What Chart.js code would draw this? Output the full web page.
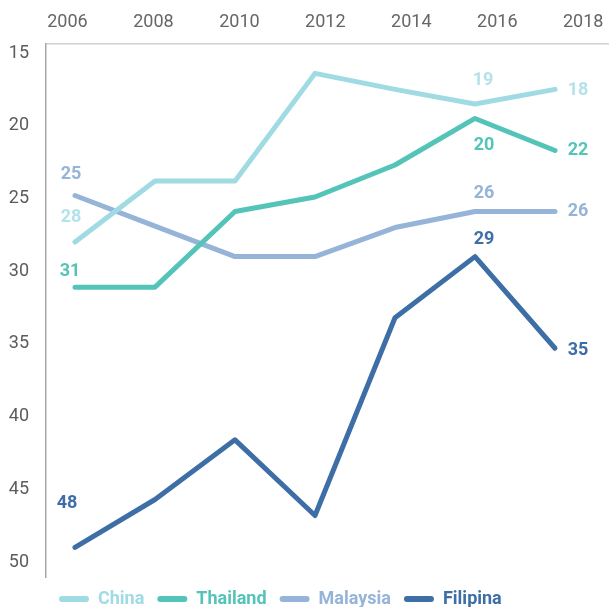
<!DOCTYPE html>
<html>
<head>
<meta charset="utf-8">
<script src="https://cdn.jsdelivr.net/npm/chart.js@4.4.1/dist/chart.umd.min.js"></script>
<style>
  html, body { margin: 0; padding: 0; background: #fff; overflow: hidden; }
  canvas { display: block; }
</style>
</head>
<body>
<canvas id="chart" width="609" height="618" style="width:609px;height:618px"></canvas>
<script>
const YEAR_TICKS = [2006, 2008, 2010, 2012, 2014, 2016, 2018];
const RANK_TICKS = [15, 20, 25, 30, 35, 40, 45, 50];

const SERIES_NAMES = ['China', 'Thailand', 'Malaysia', 'Filipina'];
const china = [28.0, 23.8, 23.8, 16.4, 17.5, 18.5, 17.5];
const thailand = [31.1, 31.1, 25.9, 24.9, 22.7, 19.5, 21.7];
const malaysia = [24.8, 26.9, 29.0, 29.0, 27.0, 25.9, 25.9];
const filipina = [49.0, 45.7, 41.6, 46.8, 33.2, 29.0, 35.3];

// value tags shown on the chart (index -> text)
const chinaTags = { 0: '28', 5: '19', 6: '18' };
const thailandTags = { 0: '31', 5: '20', 6: '22' };
const malaysiaTags = { 0: '25', 5: '26', 6: '26' };
const filipinaTags = { 0: '48', 5: '29', 6: '35' };

const COLORS = ['#a0dbe4', '#55c4b8', '#96b3d8', '#3d6ea6'];
const TAG_COLORS = ['#b3e3ea', '#55c4b8', '#96b3d8', '#3d6ea6'];

// tag offsets from their point, per series and index
const TAG_OFFSETS = [
  { 0: [-4, -25], 5: [8, -23], 6: [23, 1] },
  { 0: [-5, -16], 5: [9, 27], 6: [23, 0] },
  { 0: [-4, -21], 5: [9, -18], 6: [23, 0] },
  { 0: [-8, -44], 5: [9, -17], 6: [23, 2] },
];

const { Chart } = window;
const FONT = 'Roboto, "Noto Sans", sans-serif';

const seriesValues = [china, thailand, malaysia, filipina];
const seriesTags = [chinaTags, thailandTags, malaysiaTags, filipinaTags];

const tagPlugin = {
  id: 'valueTags',
  afterDatasetsDraw(chart) {
    const { ctx } = chart;
    ctx.save();
    ctx.font = `bold 18px ${FONT}`;
    ctx.textAlign = 'center';
    ctx.textBaseline = 'middle';
    chart.data.datasets.forEach((ds, di) => {
      const meta = chart.getDatasetMeta(di);
      Object.keys(seriesTags[di]).forEach((key) => {
        const idx = Number(key);
        const pt = meta.data[idx];
        const [dx, dy] = TAG_OFFSETS[di][idx];
        ctx.fillStyle = TAG_COLORS[di];
        ctx.fillText(seriesTags[di][idx], pt.x + dx, pt.y + dy);
      });
    });
    ctx.restore();
  },
};

const datasets = SERIES_NAMES.map((name, i) => ({
  label: name,
  data: seriesValues[i].map((y, x) => ({ x, y })),
  xAxisID: 'xd',
  yAxisID: 'y',
  borderColor: COLORS[i],
  backgroundColor: COLORS[i],
  borderWidth: 5,
  borderCapStyle: 'round',
  borderJoinStyle: 'round',
  pointRadius: 0,
  tension: 0,
}));

new Chart(document.getElementById('chart').getContext('2d'), {
  type: 'line',
  data: { datasets },
  options: {
    responsive: false,
    devicePixelRatio: 1,
    animation: false,
    layout: { padding: { left: 8, top: 8, right: 0, bottom: 0 } },
    scales: {
      x: {
        type: 'linear',
        position: 'top',
        min: 2005.5,
        max: 2018.6,
        afterBuildTicks: (scale) => {
          scale.ticks = YEAR_TICKS.map((value) => ({ value }));
        },
        afterFit: (scale) => {
          scale.height = 36;
          scale.paddingLeft = 0;
          scale.paddingRight = 0;
        },
        grid: { display: false, drawTicks: false },
        border: { display: true, color: '#d0d0d0', width: 1.5 },
        ticks: {
          padding: 11,
          color: '#666',
          font: { family: FONT, size: 18 },
          callback: (v) => String(v),
          maxRotation: 0,
        },
      },
      xd: {
        type: 'linear',
        display: false,
        min: -0.3625,
        max: 6.675,
      },
      y: {
        type: 'linear',
        reverse: true,
        min: 14.38,
        max: 51.03,
        afterBuildTicks: (scale) => {
          scale.ticks = RANK_TICKS.map((value) => ({ value }));
        },
        afterFit: (scale) => {
          scale.width = 38;
          scale.paddingTop = 0;
          scale.paddingBottom = 0;
        },
        grid: { display: false, drawTicks: false },
        border: { display: true, color: '#a8a8a8', width: 1.5 },
        ticks: {
          padding: 17,
          color: '#5c5c5c',
          font: { family: FONT, size: 18 },
        },
      },
    },
    plugins: {
      legend: {
        position: 'bottom',
        align: 'start',
        fullSize: false,
        labels: {
          boxWidth: 30,
          boxHeight: 6,
          useBorderRadius: true,
          borderRadius: 3,
          padding: 13,
          font: { family: FONT, size: 18, weight: 'bold' },
          generateLabels: (chart) => chart.data.datasets.map((ds, i) => ({
            text: ds.label,
            fillStyle: COLORS[i],
            strokeStyle: COLORS[i],
            fontColor: COLORS[i],
            lineWidth: 0,
            borderRadius: 3,
            hidden: false,
            datasetIndex: i,
          })),
        },
      },
      tooltip: { enabled: false },
    },
  },
  plugins: [tagPlugin],
});
</script>
</body>
</html>
